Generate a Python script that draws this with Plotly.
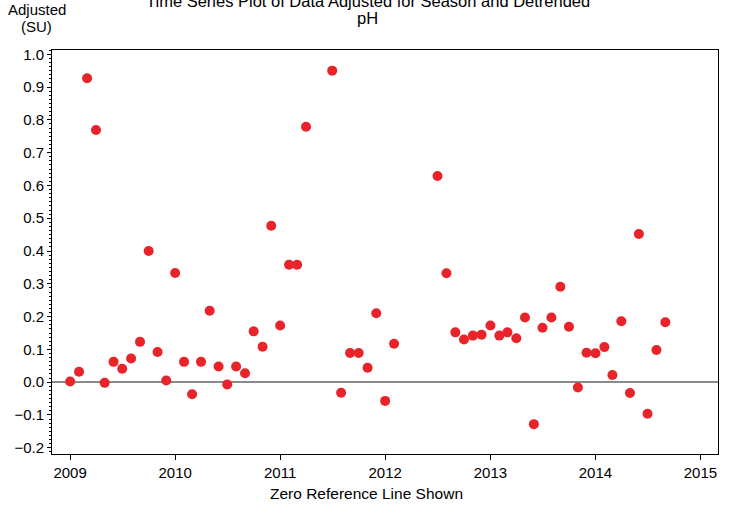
import plotly.graph_objects as go

# Monthly observations (seasonally adjusted, detrended pH)
dates = [
    "2009-01-01", "2009-02-01", "2009-03-01", "2009-04-01", "2009-05-01", "2009-06-01",
    "2009-07-01", "2009-08-01", "2009-09-01", "2009-10-01", "2009-11-01", "2009-12-01",
    "2010-01-01", "2010-02-01", "2010-03-01", "2010-04-01", "2010-05-01", "2010-06-01",
    "2010-07-01", "2010-08-01", "2010-09-01", "2010-10-01", "2010-11-01", "2010-12-01",
    "2011-01-01", "2011-02-01", "2011-03-01", "2011-04-01",
    "2011-07-01", "2011-08-01", "2011-09-01", "2011-10-01", "2011-11-01", "2011-12-01",
    "2012-01-01", "2012-02-01",
    "2012-07-01", "2012-08-01", "2012-09-01", "2012-10-01", "2012-11-01", "2012-12-01",
    "2013-01-01", "2013-02-01", "2013-03-01", "2013-04-01", "2013-05-01", "2013-06-01",
    "2013-07-01", "2013-08-01", "2013-09-01", "2013-10-01", "2013-11-01", "2013-12-01",
    "2014-01-01", "2014-02-01", "2014-03-01", "2014-04-01", "2014-05-01", "2014-06-01",
    "2014-07-01", "2014-08-01", "2014-09-01",
]
adjusted = [
    0.002, 0.032, 0.927, 0.769, -0.002, 0.062,
    0.041, 0.072, 0.123, 0.400, 0.092, 0.005,
    0.333, 0.062, -0.037, 0.062, 0.218, 0.048,
    -0.007, 0.048, 0.027, 0.155, 0.108, 0.477,
    0.173, 0.358, 0.358, 0.779,
    0.950, -0.032, 0.089, 0.089, 0.044, 0.210,
    -0.057, 0.117,
    0.629, 0.332, 0.152, 0.130, 0.142, 0.145,
    0.173, 0.142, 0.152, 0.134, 0.197, -0.128,
    0.166, 0.197, 0.291, 0.169, -0.016, 0.090,
    0.088, 0.107, 0.022, 0.186, -0.033, 0.452,
    -0.096, 0.098, 0.183,
]
y_ticks = [-0.2, -0.1, 0.0, 0.1, 0.2, 0.3, 0.4, 0.5, 0.6, 0.7, 0.8, 0.9, 1.0]
x_ticks = ["2009-01-01", "2010-01-01", "2011-01-01", "2012-01-01",
           "2013-01-01", "2014-01-01", "2015-01-01"]
x_labels = ["2009", "2010", "2011", "2012", "2013", "2014", "2015"]

FONT = "Liberation Sans, Arial, sans-serif"

fig = go.Figure()
fig.add_trace(go.Scatter(
    x=dates, y=adjusted, mode="markers",
    marker=dict(color="#e8232a", size=10, line=dict(width=0)),
    showlegend=False,
))

fig.update_layout(
    width=733, height=505,
    margin=dict(l=52, r=15, t=50, b=51),
    paper_bgcolor="white", plot_bgcolor="white",
    font=dict(family=FONT, size=15, color="black"),
    xaxis=dict(
        type="date", range=["2008-10-30", "2015-03-03"],
        tickvals=x_ticks, ticktext=x_labels,
        ticks="outside", ticklen=5, tickcolor="black",
        showline=True, linecolor="black", linewidth=1, mirror=True,
        showgrid=False, zeroline=False, automargin=False,
    ),
    yaxis=dict(
        range=[-0.219, 1.013],
        tickvals=y_ticks, tickformat=".1f",
        ticks="outside", ticklen=4, tickcolor="black",
        minor=dict(dtick=0.0125, tick0=0, ticks="outside", ticklen=2, tickcolor="black"),
        showline=True, linecolor="black", linewidth=1, mirror=True,
        showgrid=False, automargin=False,
        zeroline=True, zerolinecolor="#8a8a8a", zerolinewidth=1.5,
    ),
    annotations=[
        # top line of the title sits partly above the page edge, as in the original
        dict(text="Time Series Plot of Data Adjusted for Season and Detrended",
             xref="paper", yref="paper", x=0.474, y=1.122, showarrow=False,
             xanchor="center", yanchor="middle", font=dict(size=16.5)),
        dict(text="pH", xref="paper", yref="paper", x=0.474, y=1.079,
             showarrow=False, xanchor="center", yanchor="middle", font=dict(size=16.5)),
        dict(text="Adjusted", xref="paper", yref="paper", x=-0.023, y=1.1,
             showarrow=False, xanchor="center", yanchor="middle", font=dict(size=15)),
        dict(text="(SU)", xref="paper", yref="paper", x=-0.023, y=1.059,
             showarrow=False, xanchor="center", yanchor="middle", font=dict(size=15)),
        dict(text="Zero Reference Line Shown", xref="paper", yref="paper",
             x=0.472, y=-0.097, showarrow=False, xanchor="center", yanchor="middle",
             font=dict(size=15.5)),
    ],
)

fig.write_html("out.html", config={"displayModeBar": False},
               post_script="document.body.style.margin = '0';")
